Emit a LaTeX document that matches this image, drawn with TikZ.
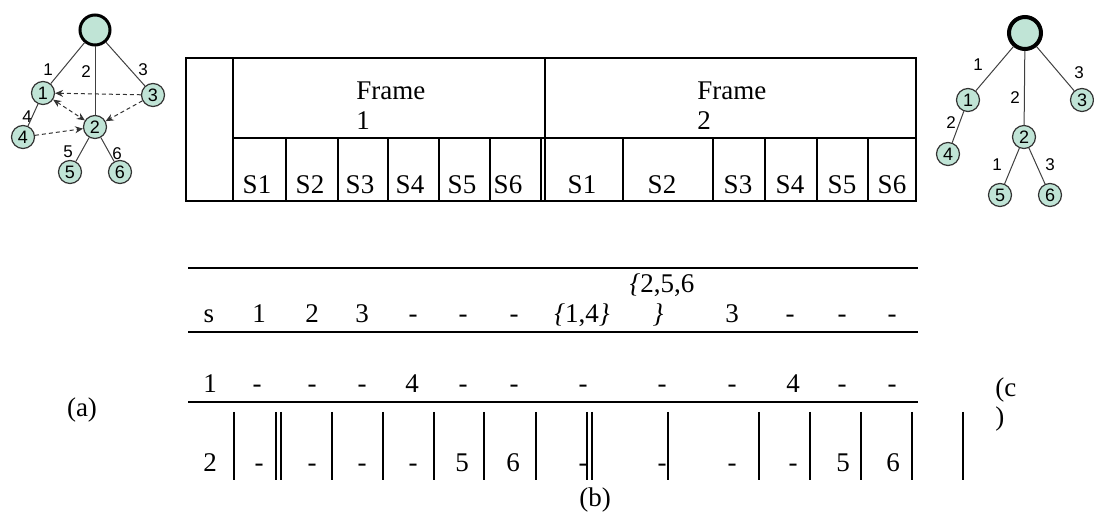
\documentclass[tikz,border=0pt]{standalone}
\usepackage{fontspec}
\setmainfont{Liberation Serif}
\newfontfamily\treefont{Liberation Sans}
\usetikzlibrary{arrows.meta,positioning}
\definecolor{vertfill}{RGB}{192,228,214}

\begin{document}
\begin{tikzpicture}[x=0.5pt, y=-0.5pt, >=Stealth,
    every node/.style={font=\fontsize{13.5}{15}\selectfont, inner sep=0pt},
    vert/.style={circle, draw=black!80, line width=0.6pt, fill=vertfill, minimum size=11.5pt, font=\treefont\fontsize{9}{10}\selectfont},
    rootvert/.style={circle, draw=black, fill=vertfill, minimum size=15pt},
    elabel/.style={font=\treefont\fontsize{8.5}{10}\selectfont},
    edge/.style={draw=black!75, line width=0.5pt},
    hint/.style={draw=black!80, line width=0.5pt, dash pattern=on 2pt off 1.5pt, -{Stealth[length=4pt,width=3.5pt]}},
    rule/.style={line width=1.4pt},
    bar/.style={line width=0.6pt}]
    \useasboundingbox (0,0) rectangle (1094,518);

    % Left tree with its dashed hints
    \node[rootvert, line width=1.5pt] (lr) at (95,30) {};
    \node[vert] (la) at (43,93) {1};
    \node[vert] (lb) at (95,127) {2};
    \node[vert] (lc) at (153,95) {3};
    \node[vert] (ld) at (23,137) {4};
    \node[vert] (le) at (70,172) {5};
    \node[vert] (lf) at (120,172) {6};
    \draw[edge] (lr) -- (la);
    \draw[edge] (lr) -- (lb);
    \draw[edge] (lr) -- (lc);
    \draw[edge] (la) -- (ld);
    \draw[edge] (lb) -- (le);
    \draw[edge] (lb) -- (lf);
    \node[elabel] (lla) at (48,70) {1};
    \node[elabel] (llb) at (86,72) {2};
    \node[elabel] (llc) at (143,70) {3};
    \node[elabel] (lld) at (27,117) {4};
    \node[elabel] (lle) at (68,152) {5};
    \node[elabel] (llf) at (117,154) {6};
    \draw[hint] (lc) -- (la);
    \draw[hint] (lc) -- (lb);
    \draw[hint, {Stealth[length=4pt,width=3.5pt]}-{Stealth[length=4pt,width=3.5pt]}] (la) -- (lb);
    \draw[hint] (ld) -- (lb);

    % Right tree
    \node[rootvert, line width=2pt, minimum size=16pt] (rr) at (1025,33) {};
    \node[vert] (ra) at (968,100) {1};
    \node[vert] (rb) at (1024,137) {2};
    \node[vert] (rc) at (1082,100) {3};
    \node[vert] (rd) at (948,154) {4};
    \node[vert] (re) at (1000,195) {5};
    \node[vert] (rf) at (1050,195) {6};
    \draw[edge] (rr) -- (ra);
    \draw[edge] (rr) -- (rb);
    \draw[edge] (rr) -- (rc);
    \draw[edge] (ra) -- (rd);
    \draw[edge] (rb) -- (re);
    \draw[edge] (rb) -- (rf);
    \node[elabel] (rla) at (978,65) {1};
    \node[elabel] (rlb) at (1015,98) {2};
    \node[elabel] (rlc) at (1079,73) {3};
    \node[elabel] (rld) at (951,123) {2};
    \node[elabel] (rle) at (997,165) {1};
    \node[elabel] (rlf) at (1050,165) {3};

    % Frame table
    \draw[rule] (186,58) rectangle (916,201);
    \draw[rule] (233,58) -- (233,201);
    \draw[rule] (233,138) -- (916,138);
    \draw[rule] (545,58) -- (545,138);
    \foreach \x in {286,338,388,439,490,623,713,765,817,868}
      \draw[rule] (\x,138) -- (\x,201);
    \draw[bar] (541,138) -- (541,201);
    \draw[bar] (545,138) -- (545,201);
    \node[anchor=base west] (fa) at (356,100) {Frame};
    \node[anchor=base west] (fan) at (356,130) {1};
    \node[anchor=base west] (fb) at (697,100) {Frame};
    \node[anchor=base west] (fbn) at (697,130) {2};
    \foreach \x [count=\i] in {257,310,360,410,462,508}
      \node[anchor=base] (sa\i) at (\x,194) {S\i};
    \foreach \x [count=\i] in {582,662,738,790,842,892}
      \node[anchor=base] (sb\i) at (\x,194) {S\i};

    % Slot table
    \draw[rule] (188,268) -- (918,268);
    \draw[rule] (188,332) -- (918,332);
    \draw[rule] (188,402) -- (918,402);
    \foreach \x/\t [count=\i] in {209/s,259/1,312/2,362/3,413/-,463/-,514/-,732/3,790/-,842/-,892/-}
      \node[anchor=base] (ps\i) at (\x,323) {\t};
    \node[anchor=base] (pq) at (582,323) {\textit{\{}1,4\textit{\}}};
    \node[anchor=base] (pr) at (662,293) {\textit{\{}2,5,6};
    \node[anchor=base] (pt) at (658,323) {\textit{\}}};
    \foreach \x/\t [count=\i] in {210/1,257/-,312/-,362/-,412/4,463/-,514/-,583/-,662/-,732/-,793/4,842/-,892/-}
      \node[anchor=base] (pa\i) at (\x,393) {\t};
    \foreach \x/\t [count=\i] in {210/2,259/-,312/-,362/-,413/-,462/5,513/6,583/-,662/-,732/-,793/-,843/5,893/6}
      \node[anchor=base] (pb\i) at (\x,472) {\t};
    \foreach \x in {234,276,281,332,383,434,484,536,587,592,668,759,810,861,912,963}
      \draw[bar] (\x,412) -- (\x,480);

    % Captions
    \node (capa) at (82,410) {(a)};
    \node (capb) at (595,500) {(b)};
    \node[anchor=base west] (capc) at (995,397) {(c};
    \node[anchor=base west] (capd) at (995,426) {)};
\end{tikzpicture}
\end{document}
